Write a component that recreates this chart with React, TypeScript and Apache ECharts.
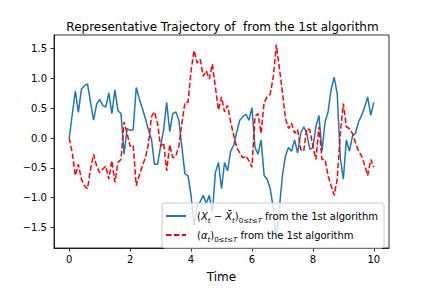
import React, { useEffect, useRef } from "react";
import * as echarts from "echarts";

const TIME_STEP = 0.1;

const blueValues = [
  0.0, 0.4, 0.79, 0.43, 0.82, 0.88, 0.91, 0.6, 0.3, 0.57,
  0.65, 0.55, 0.52, 0.76, 0.41, 0.81, 0.46, 0.41, -0.27, 0.16,
  0.13, 0.14, 0.85, 0.66, 0.5, 0.33, 0.14, -0.02, -0.44, -0.44,
  -0.14, 0.14, 0.6, 0.11, 0.41, 0.44, 0.3, -0.16, -0.6, -0.63,
  -0.96, -1.46, -1.13, -1.07, -0.96, -1.1, -0.96, -1.25, -0.58, -0.41,
  -0.85, -0.41, -0.55, -0.22, -0.12, 0.1, 0.3, 0.36, 0.4, 0.3,
  0.51, -0.16, -0.27, -0.03, -0.63, -0.69, -0.85, -1.18, -1.68, -1.18,
  -0.63, -0.3, -0.16, -0.22, -0.03, -0.25, 0.08, 0.19, 0.08, -0.19,
  -0.16, 0.19, 0.38, -0.22, 0.27, 0.44, 0.82, 1.02, 0.74, -0.33,
  -0.69, -0.03, -0.22, 0.03, 0.08, 0.27, 0.38, 0.52, 0.69, 0.38,
  0.6,
];

const redValues = [
  0.0, -0.25, -0.63, -0.44, -0.69, -0.8, -0.85, -0.52, -0.27, -0.47,
  -0.58, -0.52, -0.47, -0.69, -0.38, -0.74, -0.41, -0.36, 0.27, 0.08,
  -0.14, -0.12, -0.8, -0.63, -0.47, -0.33, -0.1, 0.36, 0.44, 0.25,
  -0.14, -0.08, -0.55, -0.11, -0.33, -0.3, -0.14, 0.25, 0.6, 0.6,
  1.13, 1.47, 1.26, 1.32, 1.04, 1.13, 0.99, 1.24, 0.85, 0.47,
  0.69, 0.44, 0.55, 0.27, 0.05, -0.16, -0.25, -0.33, -0.3, -0.38,
  -0.49, 0.36, 0.41, 0.08, 0.6, 0.69, 0.74, 1.02, 1.57, 1.18,
  0.77, 0.33, 0.16, 0.25, 0.08, 0.14, -0.19, -0.22, 0.16, 0.14,
  -0.14, -0.36, 0.19, -0.36, -0.36, -0.63, -0.8, -0.96, -0.69, 0.08,
  0.58, 0.19, 0.16, 0.08, -0.08, -0.22, -0.3, -0.45, -0.63, -0.36,
  -0.49,
];

const xTicks = [0, 2, 4, 6, 8, 10];
const yTicks = [-1.5, -1.0, -0.5, 0.0, 0.5, 1.0, 1.5];

const TITLE = "Representative Trajectory of  from the 1st algorithm";
const X_LABEL = "Time";
const NAME_X = "X";
const NAME_A = "alpha";

const FONT = "DejaVu Sans";

export default function App() {
  const ref = useRef<HTMLDivElement>(null);
  useEffect(() => {
    if (!ref.current) return;
    const chart = echarts.init(ref.current, undefined, { renderer: "svg" });
    const blueData = blueValues.map((v, i) => [i * TIME_STEP, v]);
    const redData = redValues.map((v, i) => [i * TIME_STEP, v]);
    chart.setOption({
      animation: false,
      title: {
        text: TITLE,
        left: 217.5,
        textAlign: "center",
        top: 16,
        textStyle: { fontFamily: FONT, fontSize: 12, fontWeight: "normal", color: "#000" },
      },
      grid: {
        left: 54,
        right: 43,
        top: 35,
        bottom: 36,
        show: true,
        borderColor: "#000",
        borderWidth: 0.8,
        backgroundColor: "transparent",
      },
      legend: {
        orient: "vertical",
        left: 162,
        top: 203,
        padding: [8, 6, 5, 3],
        itemWidth: 20,
        itemHeight: 12,
        itemGap: 6,
        backgroundColor: "rgba(255,255,255,0.8)",
        borderColor: "#cccccc",
        borderWidth: 1,
        borderRadius: 3,
        itemStyle: { opacity: 0 },
        data: [NAME_X, NAME_A],
        formatter: (name: string) =>
          name === NAME_X
            ? "{n|(}{it|X}{sub|t}{n| − }{it|X\u0304}{sub|t}{n|)}{subn|0≤}{sub|t}{subn|≤}{sub|T}{n| from the 1st algorithm}"
            : "{n|(}{it|α}{sub|t}{n|)}{subn|0≤}{sub|t}{subn|≤}{sub|T}{n| from the 1st algorithm}",
        textStyle: {
          fontFamily: FONT,
          fontSize: 10,
          color: "#000",
          padding: [0, 0, 0, 6],
          rich: {
            n: { fontFamily: FONT, fontSize: 10, lineHeight: 16, color: "#000" },
            it: { fontFamily: FONT, fontSize: 10, fontStyle: "italic", lineHeight: 16, color: "#000" },
            sub: { fontFamily: FONT, fontSize: 7, fontStyle: "italic", lineHeight: 8, verticalAlign: "bottom", color: "#000" },
            subn: { fontFamily: FONT, fontSize: 7, lineHeight: 8, verticalAlign: "bottom", color: "#000" },
          },
        },
      },
      xAxis: {
        type: "value",
        min: -0.5,
        max: 10.5,
        name: X_LABEL,
        nameLocation: "middle",
        nameGap: 23,
        nameTextStyle: { fontFamily: FONT, fontSize: 12, color: "#000" },
        splitLine: { show: false },
        axisLine: { show: true, onZero: false, lineStyle: { color: "#000", width: 0.8 } },
        axisTick: { show: true, inside: false, length: 3.5, customValues: xTicks, lineStyle: { color: "#000", width: 0.8 } },
        axisLabel: {
          customValues: xTicks,
          margin: 6,
          fontFamily: FONT,
          fontSize: 10,
          color: "#000",
          formatter: (v: number) => String(v),
        },
      },
      yAxis: {
        type: "value",
        min: -1.845,
        max: 1.73,
        splitLine: { show: false },
        axisLine: { show: true, onZero: false, lineStyle: { color: "#000", width: 0.8 } },
        axisTick: { show: true, inside: false, length: 3.5, customValues: yTicks, lineStyle: { color: "#000", width: 0.8 } },
        axisLabel: {
          customValues: yTicks,
          margin: 7,
          fontFamily: FONT,
          fontSize: 10,
          color: "#000",
          formatter: (v: number) => v.toFixed(1).replace("-", "\u2212"),
        },
      },
      series: [
        {
          name: NAME_X,
          type: "line",
          data: blueData,
          showSymbol: false,
          symbol: "none",
          silent: true,
          lineStyle: { color: "#1f77b4", width: 1.5 },
          itemStyle: { color: "#1f77b4" },
        },
        {
          name: NAME_A,
          type: "line",
          data: redData,
          showSymbol: false,
          symbol: "none",
          silent: true,
          lineStyle: { color: "#ff0000", width: 1.5, type: [5.5, 2.4] },
          itemStyle: { color: "#ff0000" },
        },
      ],
    });
    return () => chart.dispose();
  }, []);
  return (
    <div
      ref={ref}
      style={{ position: "fixed", left: 0, top: 0, width: 432, height: 288, background: "#fff" }}
    />
  );
}
